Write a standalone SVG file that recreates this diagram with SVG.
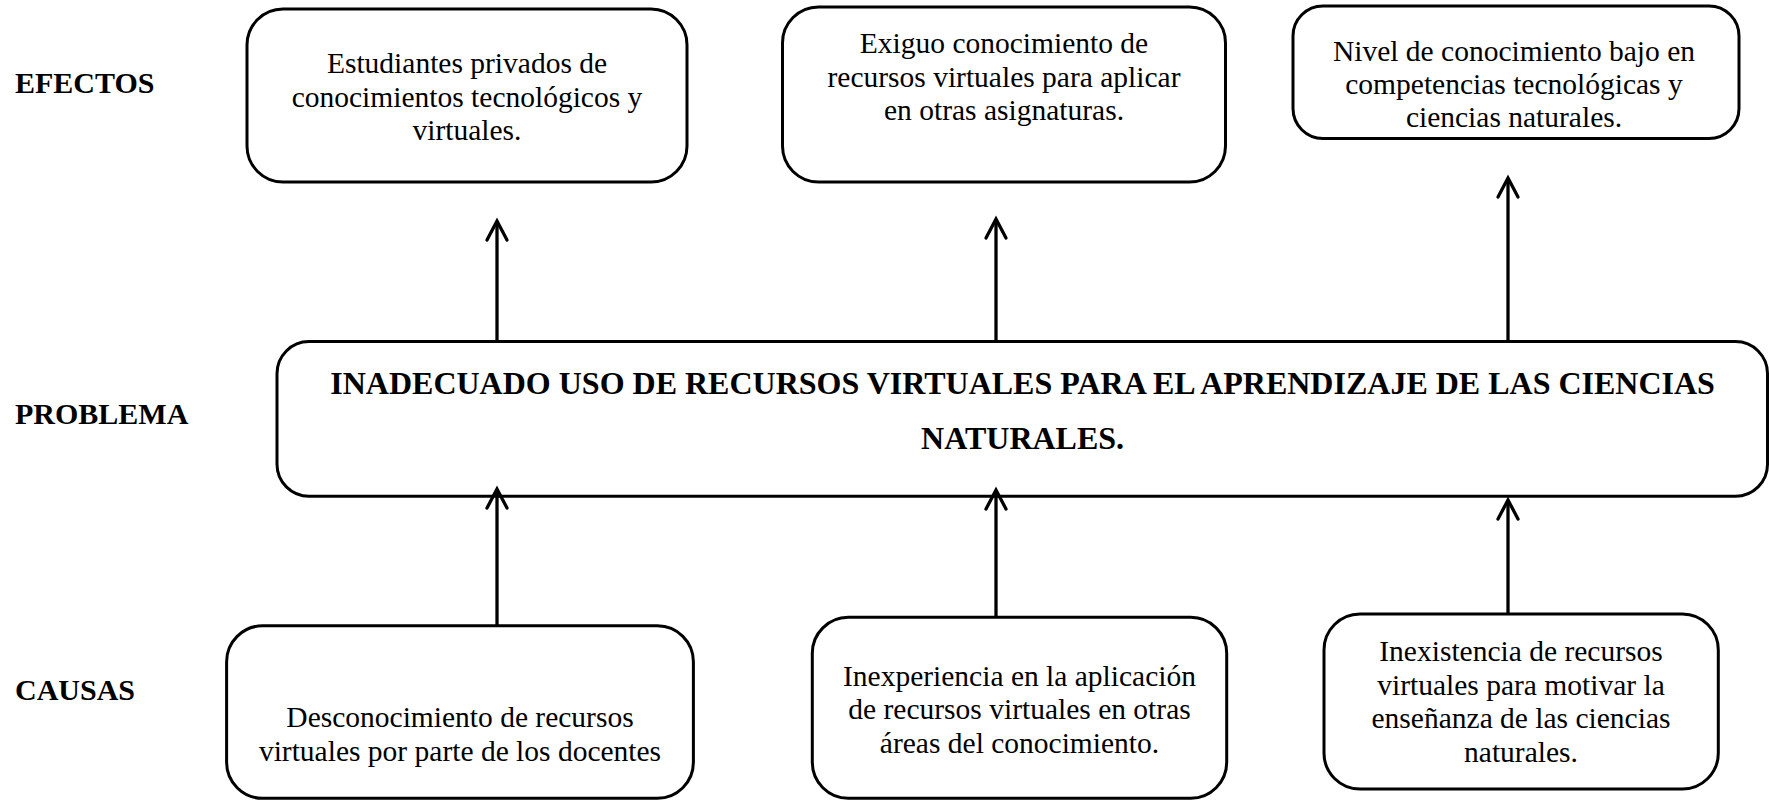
<svg xmlns="http://www.w3.org/2000/svg" width="1769" height="800" viewBox="0 0 1769 800">
<style>
.box{fill:#fff;stroke:#000;stroke-width:3}
.t{font-family:"Liberation Serif","Times New Roman",serif;font-size:29.5px;fill:#000;text-anchor:middle}
.lbl{font-family:"Liberation Serif","Times New Roman",serif;font-size:30px;font-weight:bold;fill:#000}
.pt{font-family:"Liberation Serif","Times New Roman",serif;font-size:32px;font-weight:bold;fill:#000;text-anchor:middle}
.arr{stroke:#000;stroke-width:3.3;fill:none}
</style>
<defs>
<marker id="ah" viewBox="-24 -13 28 26" refX="0" refY="0" markerWidth="28" markerHeight="26" markerUnits="userSpaceOnUse" orient="auto">
<path d="M-19,-10 L0,0 L-19,10" fill="none" stroke="#000" stroke-width="3.3" stroke-linecap="round"/>
</marker>
</defs>
<rect width="1769" height="800" fill="#fff"/>
<g id="labels">
<text class="lbl" x="15" y="93">EFECTOS</text>
<text class="lbl" x="15" y="424">PROBLEMA</text>
<text class="lbl" x="15" y="700">CAUSAS</text>
</g>
<g id="effect1">
<rect class="box" x="247" y="9" width="440" height="173" rx="36"/>
<text class="t" x="467" y="73">Estudiantes privados de</text>
<text class="t" x="467" y="106.6">conocimientos tecnológicos y</text>
<text class="t" x="467" y="140.2">virtuales.</text>
</g>
<g id="effect2">
<rect class="box" x="782.5" y="7" width="443" height="175" rx="36"/>
<text class="t" x="1004" y="53">Exiguo conocimiento de</text>
<text class="t" x="1004" y="86.6">recursos virtuales para aplicar</text>
<text class="t" x="1004" y="120.2">en otras asignaturas.</text>
</g>
<g id="effect3">
<rect class="box" x="1293" y="6" width="446" height="132.5" rx="30"/>
<text class="t" x="1514" y="61">Nivel de conocimiento bajo en</text>
<text class="t" x="1514" y="94">competencias tecnológicas y</text>
<text class="t" x="1514" y="127">ciencias naturales.</text>
</g>
<g id="problem">
<rect class="box" x="277" y="341.6" width="1490.5" height="154.6" rx="32"/>
<text class="pt" x="1022.6" y="394">INADECUADO USO DE RECURSOS VIRTUALES PARA EL APRENDIZAJE DE LAS CIENCIAS</text>
<text class="pt" x="1022.6" y="449">NATURALES.</text>
</g>
<g id="cause1">
<rect class="box" x="226.6" y="625.8" width="466.8" height="172.5" rx="36"/>
<text class="t" x="460" y="727.2">Desconocimiento de recursos</text>
<text class="t" x="460" y="760.8">virtuales por parte de los docentes</text>
</g>
<g id="cause2">
<rect class="box" x="812.3" y="617.3" width="414.4" height="181" rx="36"/>
<text class="t" x="1019.5" y="686">Inexperiencia en la aplicación</text>
<text class="t" x="1019.5" y="719.4">de recursos virtuales en otras</text>
<text class="t" x="1019.5" y="752.8">áreas del conocimiento.</text>
</g>
<g id="cause3">
<rect class="box" x="1324" y="614" width="394.3" height="175" rx="36"/>
<text class="t" x="1521" y="661">Inexistencia de recursos</text>
<text class="t" x="1521" y="694.6">virtuales para motivar la</text>
<text class="t" x="1521" y="728.2">enseñanza de las ciencias</text>
<text class="t" x="1521" y="761.8">naturales.</text>
</g>
<g id="connectors">
<line class="arr" x1="497" y1="341.6" x2="497" y2="221" marker-end="url(#ah)"/>
<line class="arr" x1="996" y1="341.6" x2="996" y2="219" marker-end="url(#ah)"/>
<line class="arr" x1="1508" y1="341.6" x2="1508" y2="178" marker-end="url(#ah)"/>
<line class="arr" x1="497" y1="625.8" x2="497" y2="489" marker-end="url(#ah)"/>
<line class="arr" x1="996" y1="617.3" x2="996" y2="490" marker-end="url(#ah)"/>
<line class="arr" x1="1508" y1="614" x2="1508" y2="500" marker-end="url(#ah)"/>
</g>
</svg>
